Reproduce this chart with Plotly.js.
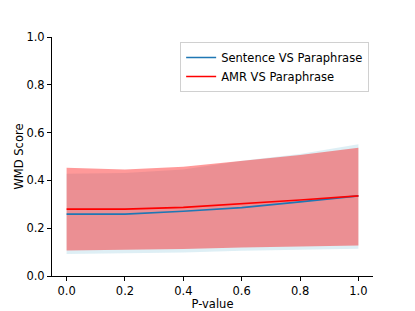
<!DOCTYPE html>
<html>
<head>
<meta charset="utf-8">
<script src="https://cdn.plot.ly/plotly-3.0.1.min.js"></script>
<style>html,body{margin:0;padding:0;background:#fff;}#chart{width:415px;height:311px;}</style>
</head>
<body>
<div id="chart"></div>
<script>
const pValues = [0.0, 0.2, 0.4, 0.6, 0.8, 1.0];
const sentenceMean = [0.259, 0.259, 0.271, 0.286, 0.310, 0.335];
const sentenceUpper = [0.428, 0.431, 0.446, 0.482, 0.510, 0.551];
const sentenceLower = [0.092, 0.094, 0.098, 0.106, 0.110, 0.114];
const amrMean = [0.280, 0.280, 0.287, 0.301, 0.318, 0.335];
const amrUpper = [0.453, 0.446, 0.457, 0.481, 0.506, 0.537];
const amrLower = [0.107, 0.109, 0.113, 0.119, 0.124, 0.128];
const tickVals = [0.0, 0.2, 0.4, 0.6, 0.8, 1.0];
const tickText = ["0.0", "0.2", "0.4", "0.6", "0.8", "1.0"];

const blueFill = 'rgba(173,216,230,0.4)';
const redFill = 'rgba(255,0,0,0.4)';

const traces = [
  {x: pValues, y: sentenceLower, mode: 'lines', line: {width: 0}, showlegend: false, hoverinfo: 'skip'},
  {x: pValues, y: sentenceUpper, mode: 'lines', line: {width: 0}, fill: 'tonexty', fillcolor: blueFill, showlegend: false, hoverinfo: 'skip'},
  {x: pValues, y: amrLower, mode: 'lines', line: {width: 0}, showlegend: false, hoverinfo: 'skip'},
  {x: pValues, y: amrUpper, mode: 'lines', line: {width: 0}, fill: 'tonexty', fillcolor: redFill, showlegend: false, hoverinfo: 'skip'},
  {x: pValues, y: sentenceMean, mode: 'lines', name: 'Sentence VS Paraphrase', line: {color: '#1f77b4', width: 1.7}},
  {x: pValues, y: amrMean, mode: 'lines', name: 'AMR VS Paraphrase', line: {color: '#ff0000', width: 1.7}}
];

const font = {family: 'DejaVu Sans, sans-serif', size: 11.5, color: '#000'};

const layout = {
  width: 415, height: 311,
  margin: {l: 52, r: 42, t: 37, b: 35},
  paper_bgcolor: '#fff', plot_bgcolor: '#fff',
  font: font,
  showlegend: true,
  legend: {
    x: 0.988, y: 0.979, xanchor: 'right', yanchor: 'top',
    traceorder: 'normal',
    bgcolor: 'rgba(255,255,255,0.8)', bordercolor: '#d0d0d0', borderwidth: 1,
    font: font, tracegroupgap: 0, itemwidth: 30
  },
  xaxis: {
    range: [-0.05, 1.05], tickvals: tickVals, ticktext: tickText,
    showgrid: false, zeroline: false, showline: true, linecolor: '#000', linewidth: 1,
    ticks: 'outside', ticklen: 4, tickcolor: '#000', tickwidth: 1,
    title: {text: 'P-value', font: font, standoff: 1}
  },
  yaxis: {
    range: [0, 1], tickvals: tickVals, ticktext: tickText,
    showgrid: false, zeroline: false, showline: true, linecolor: '#000', linewidth: 1,
    ticks: 'outside', ticklen: 4, tickcolor: '#000', tickwidth: 1,
    title: {text: 'WMD Score', font: font, standoff: 0}
  }
};

Plotly.newPlot('chart', traces, layout, {displayModeBar: false, staticPlot: true});
</script>
</body>
</html>
